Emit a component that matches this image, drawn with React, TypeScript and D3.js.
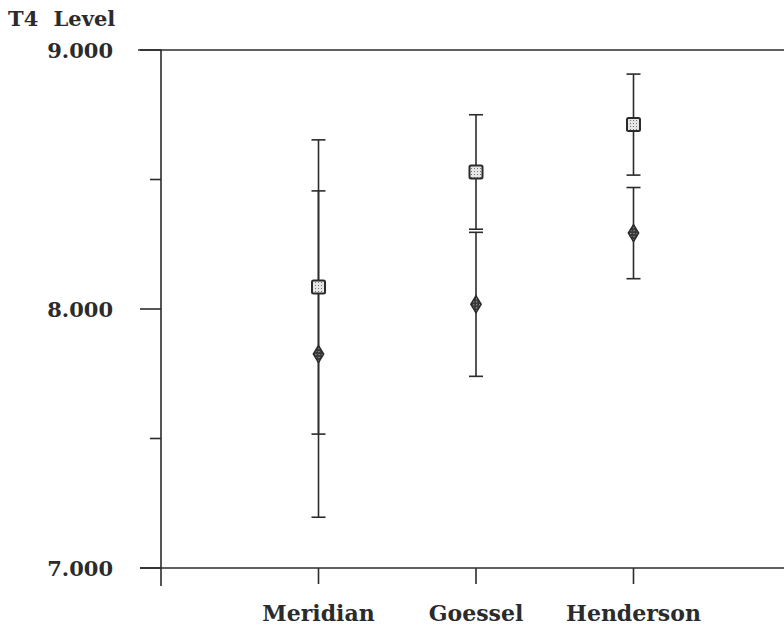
import React, { useEffect, useRef } from 'react';
import * as d3 from 'd3';

// sites along the x axis
const sites = ['Meridian', 'Goessel', 'Henderson'];

// series 1 (square markers): mean and half-width of error bar
const squareMean = [8.085, 8.529, 8.712];
const squareErr = [0.568, 0.221, 0.195];

// series 2 (diamond markers)
const diamondMean = [7.826, 8.018, 8.293];
const diamondErr = [0.63, 0.278, 0.176];

const yMajor = [7, 8, 9];
const yMinor = [7.5, 8.5];

const App = () => {
  const svgRef = useRef<SVGSVGElement>(null);

  useEffect(() => {
    const svg = d3.select(svgRef.current);
    svg.selectAll('*').remove();

    const ink = '#2b2b2b';
    const font = '"DejaVu Serif", serif';

    const x = d3.scaleLinear().domain([0, 4]).range([161, 791]);
    const y = d3.scaleLinear().domain([7, 9]).range([568, 50]);

    const defs = svg.append('defs');
    const sq = defs
      .append('pattern')
      .attr('id', 'dotsLight')
      .attr('width', 3)
      .attr('height', 3)
      .attr('patternUnits', 'userSpaceOnUse');
    sq.append('rect').attr('width', 3).attr('height', 3).attr('fill', '#e6e6e6');
    sq.append('rect').attr('width', 1).attr('height', 1).attr('fill', '#777');

    const dm = defs
      .append('pattern')
      .attr('id', 'dotsDark')
      .attr('width', 3)
      .attr('height', 3)
      .attr('patternUnits', 'userSpaceOnUse');
    dm.append('rect').attr('width', 3).attr('height', 3).attr('fill', '#3a3a3a');
    dm.append('rect').attr('width', 1).attr('height', 1).attr('fill', '#bbb');

    const g = svg.append('g');

    // frame lines
    g.append('line')
      .attr('x1', 138).attr('x2', 784)
      .attr('y1', y(9)).attr('y2', y(9))
      .attr('stroke', ink).attr('stroke-width', 1.6);
    g.append('line')
      .attr('x1', 140).attr('x2', 784)
      .attr('y1', y(7)).attr('y2', y(7))
      .attr('stroke', ink).attr('stroke-width', 1.6);
    g.append('line')
      .attr('x1', x(0)).attr('x2', x(0))
      .attr('y1', y(9)).attr('y2', y(7) + 18)
      .attr('stroke', ink).attr('stroke-width', 1.6);

    // y ticks
    g.selectAll('.ymaj')
      .data(yMajor)
      .join('line')
      .attr('x1', 140).attr('x2', x(0))
      .attr('y1', (d) => y(d)).attr('y2', (d) => y(d))
      .attr('stroke', ink).attr('stroke-width', 1.6);
    g.selectAll('.ymin')
      .data(yMinor)
      .join('line')
      .attr('x1', 150).attr('x2', x(0))
      .attr('y1', (d) => y(d)).attr('y2', (d) => y(d))
      .attr('stroke', ink).attr('stroke-width', 1.6);
    g.selectAll('.ylab')
      .data(yMajor)
      .join('text')
      .attr('x', 113)
      .attr('y', (d) => y(d) + 8)
      .attr('text-anchor', 'end')
      .attr('font-family', font)
      .attr('font-weight', 'bold')
      .attr('font-size', 21)
      .attr('fill', ink)
      .text((d) => d3.format('.3f')(d));

    g.append('text')
      .attr('x', 8).attr('y', 26)
      .attr('font-family', font)
      .attr('font-weight', 'bold')
      .attr('font-size', 21)
      .attr('fill', ink)
      .attr('word-spacing', 8)
      .text('T4 Level');

    // x ticks and labels
    g.selectAll('.xt')
      .data(sites)
      .join('line')
      .attr('x1', (_, i) => x(i + 1)).attr('x2', (_, i) => x(i + 1))
      .attr('y1', y(7)).attr('y2', y(7) + 16)
      .attr('stroke', ink).attr('stroke-width', 1.6);
    g.selectAll('.xl')
      .data(sites)
      .join('text')
      .attr('x', (_, i) => x(i + 1))
      .attr('y', 621)
      .attr('text-anchor', 'middle')
      .attr('font-family', font)
      .attr('font-weight', 'bold')
      .attr('font-size', 22)
      .attr('fill', ink)
      .text((d) => d);

    const errBars = (means: number[], errs: number[]) => {
      means.forEach((m, i) => {
        const cx = x(i + 1);
        const top = y(m + errs[i]);
        const bot = y(m - errs[i]);
        g.append('line')
          .attr('x1', cx).attr('x2', cx).attr('y1', top).attr('y2', bot)
          .attr('stroke', ink).attr('stroke-width', 1.6);
        [top, bot].forEach((yy) => {
          g.append('line')
            .attr('x1', cx - 7).attr('x2', cx + 7).attr('y1', yy).attr('y2', yy)
            .attr('stroke', ink).attr('stroke-width', 1.6);
        });
      });
    };
    errBars(squareMean, squareErr);
    errBars(diamondMean, diamondErr);

    g.selectAll('.sq')
      .data(squareMean)
      .join('rect')
      .attr('x', (_, i) => x(i + 1) - 6.5)
      .attr('y', (d) => y(d) - 6.5)
      .attr('width', 13).attr('height', 13)
      .attr('rx', 1.5)
      .attr('fill', 'url(#dotsLight)')
      .attr('stroke', ink).attr('stroke-width', 2);

    const diamond = d3.symbol().type(d3.symbolDiamond).size(85);
    g.selectAll('.dm')
      .data(diamondMean)
      .join('path')
      .attr('d', diamond)
      .attr('transform', (d, i) => `translate(${x(i + 1)},${y(d)}) scale(1.05,1)`)
      .attr('fill', 'url(#dotsDark)')
      .attr('stroke', ink).attr('stroke-width', 1.4);
  }, []);

  return (
    <svg ref={svgRef} width={784} height={629} style={{ position: 'absolute', left: 0, top: 0, background: '#fff' }} />
  );
};

export default App;
